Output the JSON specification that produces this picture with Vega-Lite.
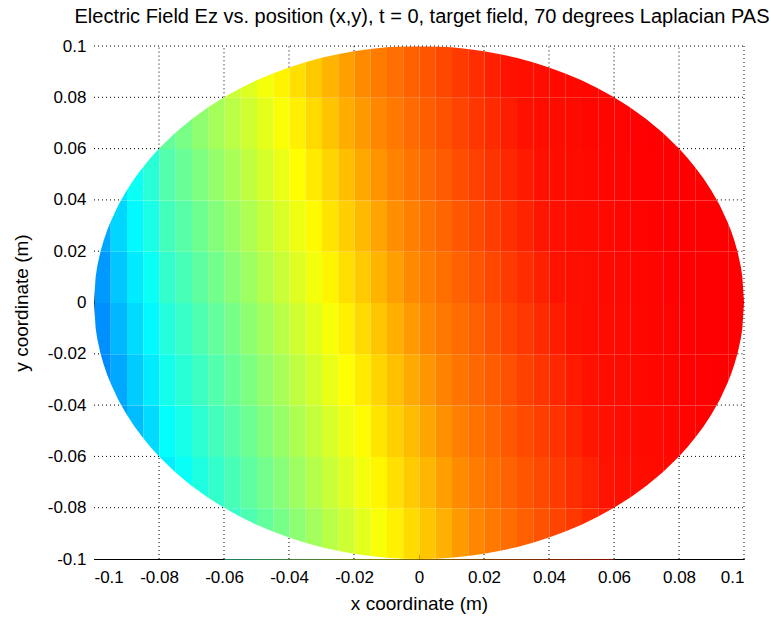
{
"$schema": "https://vega.github.io/schema/vega-lite/v6.json",
"width": 650, "height": 513,
"autosize": {"type": "none"},
"padding": {"left": 94, "top": 46, "right": 25, "bottom": 61},
"background": "white",
"title": {"text": "Electric Field Ez vs. position (x,y), t = 0, target field, 70 degrees Laplacian PAS", "font": "Liberation Sans", "fontSize": 20, "fontWeight": "normal", "color": "#000", "offset": 10, "dx": 3},
"config": {
  "view": {"stroke": null},
  "axis": {"grid": false, "zindex": 1, "domainColor": "#000", "domainWidth": 1, "tickColor": "#000", "tickSize": -5, "labelFont": "Liberation Sans", "labelFontSize": 17, "labelColor": "#000", "titleFont": "Liberation Sans", "titleFontSize": 19, "titleFontWeight": "normal", "titleColor": "#000"},
  "axisX": {"labelPadding": 15, "titlePadding": 9},
  "axisY": {"labelPadding": 13, "titlePadding": 16}
},
"datasets": {
"cells": [
{"x":-0.1,"y":-0.04,"v":0.260},{"x":-0.1,"y":-0.02,"v":0.265},{"x":-0.1,"y":0,"v":0.275},{"x":-0.1,"y":0.02,"v":0.290},
{"x":-0.095,"y":-0.06,"v":0.280},{"x":-0.095,"y":-0.04,"v":0.290},{"x":-0.095,"y":-0.02,"v":0.305},{"x":-0.095,"y":0,"v":0.320},{"x":-0.095,"y":0.02,"v":0.335},{"x":-0.095,"y":0.04,"v":0.350},
{"x":-0.09,"y":-0.06,"v":0.310},{"x":-0.09,"y":-0.04,"v":0.325},{"x":-0.09,"y":-0.02,"v":0.340},{"x":-0.09,"y":0,"v":0.355},{"x":-0.09,"y":0.02,"v":0.370},{"x":-0.09,"y":0.04,"v":0.385},
{"x":-0.085,"y":-0.06,"v":0.340},{"x":-0.085,"y":-0.04,"v":0.355},{"x":-0.085,"y":-0.02,"v":0.370},{"x":-0.085,"y":0,"v":0.385},{"x":-0.085,"y":0.02,"v":0.400},{"x":-0.085,"y":0.04,"v":0.415},
{"x":-0.08,"y":-0.08,"v":0.360},{"x":-0.08,"y":-0.06,"v":0.378},{"x":-0.08,"y":-0.04,"v":0.394},{"x":-0.08,"y":-0.02,"v":0.409},{"x":-0.08,"y":0,"v":0.425},{"x":-0.08,"y":0.02,"v":0.441},{"x":-0.08,"y":0.04,"v":0.457},{"x":-0.08,"y":0.06,"v":0.473},
{"x":-0.075,"y":-0.08,"v":0.383},{"x":-0.075,"y":-0.06,"v":0.398},{"x":-0.075,"y":-0.04,"v":0.414},{"x":-0.075,"y":-0.02,"v":0.430},{"x":-0.075,"y":0,"v":0.446},{"x":-0.075,"y":0.02,"v":0.462},{"x":-0.075,"y":0.04,"v":0.478},{"x":-0.075,"y":0.06,"v":0.494},
{"x":-0.07,"y":-0.08,"v":0.404},{"x":-0.07,"y":-0.06,"v":0.420},{"x":-0.07,"y":-0.04,"v":0.435},{"x":-0.07,"y":-0.02,"v":0.451},{"x":-0.07,"y":0,"v":0.467},{"x":-0.07,"y":0.02,"v":0.483},{"x":-0.07,"y":0.04,"v":0.499},{"x":-0.07,"y":0.06,"v":0.515},
{"x":-0.065,"y":-0.08,"v":0.425},{"x":-0.065,"y":-0.06,"v":0.440},{"x":-0.065,"y":-0.04,"v":0.456},{"x":-0.065,"y":-0.02,"v":0.472},{"x":-0.065,"y":0,"v":0.488},{"x":-0.065,"y":0.02,"v":0.504},{"x":-0.065,"y":0.04,"v":0.520},{"x":-0.065,"y":0.06,"v":0.536},
{"x":-0.06,"y":-0.1,"v":0.430},{"x":-0.06,"y":-0.08,"v":0.446},{"x":-0.06,"y":-0.06,"v":0.461},{"x":-0.06,"y":-0.04,"v":0.477},{"x":-0.06,"y":-0.02,"v":0.493},{"x":-0.06,"y":0,"v":0.509},{"x":-0.06,"y":0.02,"v":0.525},{"x":-0.06,"y":0.04,"v":0.541},{"x":-0.06,"y":0.06,"v":0.557},{"x":-0.06,"y":0.08,"v":0.573},
{"x":-0.055,"y":-0.1,"v":0.451},{"x":-0.055,"y":-0.08,"v":0.466},{"x":-0.055,"y":-0.06,"v":0.482},{"x":-0.055,"y":-0.04,"v":0.498},{"x":-0.055,"y":-0.02,"v":0.514},{"x":-0.055,"y":0,"v":0.530},{"x":-0.055,"y":0.02,"v":0.546},{"x":-0.055,"y":0.04,"v":0.562},{"x":-0.055,"y":0.06,"v":0.578},{"x":-0.055,"y":0.08,"v":0.594},
{"x":-0.05,"y":-0.1,"v":0.472},{"x":-0.05,"y":-0.08,"v":0.487},{"x":-0.05,"y":-0.06,"v":0.503},{"x":-0.05,"y":-0.04,"v":0.519},{"x":-0.05,"y":-0.02,"v":0.535},{"x":-0.05,"y":0,"v":0.551},{"x":-0.05,"y":0.02,"v":0.567},{"x":-0.05,"y":0.04,"v":0.583},{"x":-0.05,"y":0.06,"v":0.599},{"x":-0.05,"y":0.08,"v":0.615},
{"x":-0.045,"y":-0.1,"v":0.492},{"x":-0.045,"y":-0.08,"v":0.508},{"x":-0.045,"y":-0.06,"v":0.524},{"x":-0.045,"y":-0.04,"v":0.540},{"x":-0.045,"y":-0.02,"v":0.556},{"x":-0.045,"y":0,"v":0.572},{"x":-0.045,"y":0.02,"v":0.588},{"x":-0.045,"y":0.04,"v":0.604},{"x":-0.045,"y":0.06,"v":0.620},{"x":-0.045,"y":0.08,"v":0.636},
{"x":-0.04,"y":-0.1,"v":0.513},{"x":-0.04,"y":-0.08,"v":0.529},{"x":-0.04,"y":-0.06,"v":0.545},{"x":-0.04,"y":-0.04,"v":0.561},{"x":-0.04,"y":-0.02,"v":0.577},{"x":-0.04,"y":0,"v":0.593},{"x":-0.04,"y":0.02,"v":0.609},{"x":-0.04,"y":0.04,"v":0.625},{"x":-0.04,"y":0.06,"v":0.641},{"x":-0.04,"y":0.08,"v":0.657},
{"x":-0.035,"y":-0.1,"v":0.534},{"x":-0.035,"y":-0.08,"v":0.550},{"x":-0.035,"y":-0.06,"v":0.566},{"x":-0.035,"y":-0.04,"v":0.582},{"x":-0.035,"y":-0.02,"v":0.598},{"x":-0.035,"y":0,"v":0.614},{"x":-0.035,"y":0.02,"v":0.630},{"x":-0.035,"y":0.04,"v":0.646},{"x":-0.035,"y":0.06,"v":0.662},{"x":-0.035,"y":0.08,"v":0.678},
{"x":-0.03,"y":-0.1,"v":0.555},{"x":-0.03,"y":-0.08,"v":0.571},{"x":-0.03,"y":-0.06,"v":0.587},{"x":-0.03,"y":-0.04,"v":0.603},{"x":-0.03,"y":-0.02,"v":0.619},{"x":-0.03,"y":0,"v":0.635},{"x":-0.03,"y":0.02,"v":0.651},{"x":-0.03,"y":0.04,"v":0.667},{"x":-0.03,"y":0.06,"v":0.683},{"x":-0.03,"y":0.08,"v":0.699},
{"x":-0.025,"y":-0.1,"v":0.576},{"x":-0.025,"y":-0.08,"v":0.592},{"x":-0.025,"y":-0.06,"v":0.608},{"x":-0.025,"y":-0.04,"v":0.624},{"x":-0.025,"y":-0.02,"v":0.640},{"x":-0.025,"y":0,"v":0.656},{"x":-0.025,"y":0.02,"v":0.672},{"x":-0.025,"y":0.04,"v":0.688},{"x":-0.025,"y":0.06,"v":0.704},{"x":-0.025,"y":0.08,"v":0.719},
{"x":-0.02,"y":-0.1,"v":0.597},{"x":-0.02,"y":-0.08,"v":0.613},{"x":-0.02,"y":-0.06,"v":0.629},{"x":-0.02,"y":-0.04,"v":0.645},{"x":-0.02,"y":-0.02,"v":0.661},{"x":-0.02,"y":0,"v":0.677},{"x":-0.02,"y":0.02,"v":0.693},{"x":-0.02,"y":0.04,"v":0.709},{"x":-0.02,"y":0.06,"v":0.725},{"x":-0.02,"y":0.08,"v":0.740},
{"x":-0.015,"y":-0.1,"v":0.618},{"x":-0.015,"y":-0.08,"v":0.634},{"x":-0.015,"y":-0.06,"v":0.650},{"x":-0.015,"y":-0.04,"v":0.666},{"x":-0.015,"y":-0.02,"v":0.682},{"x":-0.015,"y":0,"v":0.698},{"x":-0.015,"y":0.02,"v":0.714},{"x":-0.015,"y":0.04,"v":0.730},{"x":-0.015,"y":0.06,"v":0.744},{"x":-0.015,"y":0.08,"v":0.754},
{"x":-0.01,"y":-0.1,"v":0.639},{"x":-0.01,"y":-0.08,"v":0.655},{"x":-0.01,"y":-0.06,"v":0.671},{"x":-0.01,"y":-0.04,"v":0.687},{"x":-0.01,"y":-0.02,"v":0.703},{"x":-0.01,"y":0,"v":0.719},{"x":-0.01,"y":0.02,"v":0.735},{"x":-0.01,"y":0.04,"v":0.747},{"x":-0.01,"y":0.06,"v":0.757},{"x":-0.01,"y":0.08,"v":0.767},
{"x":-0.005,"y":-0.1,"v":0.660},{"x":-0.005,"y":-0.08,"v":0.676},{"x":-0.005,"y":-0.06,"v":0.692},{"x":-0.005,"y":-0.04,"v":0.708},{"x":-0.005,"y":-0.02,"v":0.724},{"x":-0.005,"y":0,"v":0.740},{"x":-0.005,"y":0.02,"v":0.750},{"x":-0.005,"y":0.04,"v":0.760},{"x":-0.005,"y":0.06,"v":0.770},{"x":-0.005,"y":0.08,"v":0.780},
{"x":0,"y":-0.1,"v":0.681},{"x":0,"y":-0.08,"v":0.697},{"x":0,"y":-0.06,"v":0.713},{"x":0,"y":-0.04,"v":0.729},{"x":0,"y":-0.02,"v":0.744},{"x":0,"y":0,"v":0.753},{"x":0,"y":0.02,"v":0.763},{"x":0,"y":0.04,"v":0.773},{"x":0,"y":0.06,"v":0.783},{"x":0,"y":0.08,"v":0.793},
{"x":0.005,"y":-0.1,"v":0.702},{"x":0.005,"y":-0.08,"v":0.718},{"x":0.005,"y":-0.06,"v":0.734},{"x":0.005,"y":-0.04,"v":0.747},{"x":0.005,"y":-0.02,"v":0.756},{"x":0.005,"y":0,"v":0.766},{"x":0.005,"y":0.02,"v":0.776},{"x":0.005,"y":0.04,"v":0.786},{"x":0.005,"y":0.06,"v":0.796},{"x":0.005,"y":0.08,"v":0.805},
{"x":0.01,"y":-0.1,"v":0.723},{"x":0.01,"y":-0.08,"v":0.739},{"x":0.01,"y":-0.06,"v":0.750},{"x":0.01,"y":-0.04,"v":0.760},{"x":0.01,"y":-0.02,"v":0.769},{"x":0.01,"y":0,"v":0.779},{"x":0.01,"y":0.02,"v":0.789},{"x":0.01,"y":0.04,"v":0.799},{"x":0.01,"y":0.06,"v":0.809},{"x":0.01,"y":0.08,"v":0.818},
{"x":0.015,"y":-0.1,"v":0.743},{"x":0.015,"y":-0.08,"v":0.753},{"x":0.015,"y":-0.06,"v":0.763},{"x":0.015,"y":-0.04,"v":0.773},{"x":0.015,"y":-0.02,"v":0.782},{"x":0.015,"y":0,"v":0.792},{"x":0.015,"y":0.02,"v":0.802},{"x":0.015,"y":0.04,"v":0.812},{"x":0.015,"y":0.06,"v":0.822},{"x":0.015,"y":0.08,"v":0.831},
{"x":0.02,"y":-0.1,"v":0.756},{"x":0.02,"y":-0.08,"v":0.766},{"x":0.02,"y":-0.06,"v":0.776},{"x":0.02,"y":-0.04,"v":0.785},{"x":0.02,"y":-0.02,"v":0.795},{"x":0.02,"y":0,"v":0.805},{"x":0.02,"y":0.02,"v":0.815},{"x":0.02,"y":0.04,"v":0.825},{"x":0.02,"y":0.06,"v":0.834},{"x":0.02,"y":0.08,"v":0.844},
{"x":0.025,"y":-0.1,"v":0.769},{"x":0.025,"y":-0.08,"v":0.779},{"x":0.025,"y":-0.06,"v":0.789},{"x":0.025,"y":-0.04,"v":0.798},{"x":0.025,"y":-0.02,"v":0.808},{"x":0.025,"y":0,"v":0.818},{"x":0.025,"y":0.02,"v":0.828},{"x":0.025,"y":0.04,"v":0.838},{"x":0.025,"y":0.06,"v":0.847},{"x":0.025,"y":0.08,"v":0.857},
{"x":0.03,"y":-0.1,"v":0.782},{"x":0.03,"y":-0.08,"v":0.792},{"x":0.03,"y":-0.06,"v":0.801},{"x":0.03,"y":-0.04,"v":0.811},{"x":0.03,"y":-0.02,"v":0.821},{"x":0.03,"y":0,"v":0.831},{"x":0.03,"y":0.02,"v":0.841},{"x":0.03,"y":0.04,"v":0.850},{"x":0.03,"y":0.06,"v":0.858},{"x":0.03,"y":0.08,"v":0.860},
{"x":0.035,"y":-0.1,"v":0.795},{"x":0.035,"y":-0.08,"v":0.804},{"x":0.035,"y":-0.06,"v":0.814},{"x":0.035,"y":-0.04,"v":0.824},{"x":0.035,"y":-0.02,"v":0.834},{"x":0.035,"y":0,"v":0.844},{"x":0.035,"y":0.02,"v":0.853},{"x":0.035,"y":0.04,"v":0.859},{"x":0.035,"y":0.06,"v":0.861},{"x":0.035,"y":0.08,"v":0.862},
{"x":0.04,"y":-0.1,"v":0.808},{"x":0.04,"y":-0.08,"v":0.817},{"x":0.04,"y":-0.06,"v":0.827},{"x":0.04,"y":-0.04,"v":0.837},{"x":0.04,"y":-0.02,"v":0.847},{"x":0.04,"y":0,"v":0.857},{"x":0.04,"y":0.02,"v":0.859},{"x":0.04,"y":0.04,"v":0.861},{"x":0.04,"y":0.06,"v":0.863},{"x":0.04,"y":0.08,"v":0.865},
{"x":0.045,"y":-0.1,"v":0.820},{"x":0.045,"y":-0.08,"v":0.830},{"x":0.045,"y":-0.06,"v":0.840},{"x":0.045,"y":-0.04,"v":0.850},{"x":0.045,"y":-0.02,"v":0.858},{"x":0.045,"y":0,"v":0.860},{"x":0.045,"y":0.02,"v":0.862},{"x":0.045,"y":0.04,"v":0.863},{"x":0.045,"y":0.06,"v":0.865},{"x":0.045,"y":0.08,"v":0.867},
{"x":0.05,"y":-0.1,"v":0.833},{"x":0.05,"y":-0.08,"v":0.843},{"x":0.05,"y":-0.06,"v":0.853},{"x":0.05,"y":-0.04,"v":0.859},{"x":0.05,"y":-0.02,"v":0.861},{"x":0.05,"y":0,"v":0.862},{"x":0.05,"y":0.02,"v":0.864},{"x":0.05,"y":0.04,"v":0.866},{"x":0.05,"y":0.06,"v":0.868},{"x":0.05,"y":0.08,"v":0.869},
{"x":0.055,"y":-0.1,"v":0.846},{"x":0.055,"y":-0.08,"v":0.856},{"x":0.055,"y":-0.06,"v":0.859},{"x":0.055,"y":-0.04,"v":0.861},{"x":0.055,"y":-0.02,"v":0.863},{"x":0.055,"y":0,"v":0.865},{"x":0.055,"y":0.02,"v":0.866},{"x":0.055,"y":0.04,"v":0.868},{"x":0.055,"y":0.06,"v":0.870},{"x":0.055,"y":0.08,"v":0.872},
{"x":0.06,"y":-0.08,"v":0.860},{"x":0.06,"y":-0.06,"v":0.862},{"x":0.06,"y":-0.04,"v":0.863},{"x":0.06,"y":-0.02,"v":0.865},{"x":0.06,"y":0,"v":0.867},{"x":0.06,"y":0.02,"v":0.869},{"x":0.06,"y":0.04,"v":0.870},{"x":0.06,"y":0.06,"v":0.872},
{"x":0.065,"y":-0.08,"v":0.862},{"x":0.065,"y":-0.06,"v":0.864},{"x":0.065,"y":-0.04,"v":0.866},{"x":0.065,"y":-0.02,"v":0.867},{"x":0.065,"y":0,"v":0.869},{"x":0.065,"y":0.02,"v":0.871},{"x":0.065,"y":0.04,"v":0.873},{"x":0.065,"y":0.06,"v":0.874},
{"x":0.07,"y":-0.08,"v":0.864},{"x":0.07,"y":-0.06,"v":0.866},{"x":0.07,"y":-0.04,"v":0.868},{"x":0.07,"y":-0.02,"v":0.870},{"x":0.07,"y":0,"v":0.871},{"x":0.07,"y":0.02,"v":0.873},{"x":0.07,"y":0.04,"v":0.874},{"x":0.07,"y":0.06,"v":0.875},
{"x":0.075,"y":-0.08,"v":0.867},{"x":0.075,"y":-0.06,"v":0.869},{"x":0.075,"y":-0.04,"v":0.870},{"x":0.075,"y":-0.02,"v":0.872},{"x":0.075,"y":0,"v":0.874},{"x":0.075,"y":0.02,"v":0.875},{"x":0.075,"y":0.04,"v":0.875},{"x":0.075,"y":0.06,"v":0.875},
{"x":0.08,"y":-0.06,"v":0.871},{"x":0.08,"y":-0.04,"v":0.873},{"x":0.08,"y":-0.02,"v":0.874},{"x":0.08,"y":0,"v":0.875},{"x":0.08,"y":0.02,"v":0.875},{"x":0.08,"y":0.04,"v":0.875},
{"x":0.085,"y":-0.06,"v":0.873},{"x":0.085,"y":-0.04,"v":0.874},{"x":0.085,"y":-0.02,"v":0.875},{"x":0.085,"y":0,"v":0.875},{"x":0.085,"y":0.02,"v":0.875},{"x":0.085,"y":0.04,"v":0.875},
{"x":0.09,"y":-0.06,"v":0.875},{"x":0.09,"y":-0.04,"v":0.875},{"x":0.09,"y":-0.02,"v":0.875},{"x":0.09,"y":0,"v":0.875},{"x":0.09,"y":0.02,"v":0.875},{"x":0.09,"y":0.04,"v":0.875},
{"x":0.095,"y":-0.04,"v":0.875},{"x":0.095,"y":-0.02,"v":0.875},{"x":0.095,"y":0,"v":0.875},{"x":0.095,"y":0.02,"v":0.875}
],
"edge": [
{"x":-0.1015,"top":0,"bot":0},{"x":-0.1,"top":0,"bot":0},{"x":-0.0995,"top":0.00999,"bot":-0.00999},{"x":-0.099,"top":0.01411,"bot":-0.01411},{"x":-0.098,"top":0.0199,"bot":-0.0199},{"x":-0.097,"top":0.02431,"bot":-0.02431},{"x":-0.096,"top":0.028,"bot":-0.028},{"x":-0.095,"top":0.03122,"bot":-0.03122},{"x":-0.0925,"top":0.038,"bot":-0.038},{"x":-0.09,"top":0.04359,"bot":-0.04359},{"x":-0.0875,"top":0.04841,"bot":-0.04841},{"x":-0.085,"top":0.05268,"bot":-0.05268},{"x":-0.0825,"top":0.05651,"bot":-0.05651},{"x":-0.08,"top":0.06,"bot":-0.06},{"x":-0.075,"top":0.06614,"bot":-0.06614},{"x":-0.07,"top":0.07141,"bot":-0.07141},{"x":-0.065,"top":0.07599,"bot":-0.07599},{"x":-0.06,"top":0.08,"bot":-0.08},{"x":-0.055,"top":0.08352,"bot":-0.08352},{"x":-0.05,"top":0.0866,"bot":-0.0866},{"x":-0.045,"top":0.0893,"bot":-0.0893},{"x":-0.04,"top":0.09165,"bot":-0.09165},{"x":-0.035,"top":0.09367,"bot":-0.09367},{"x":-0.03,"top":0.09539,"bot":-0.09539},{"x":-0.025,"top":0.09682,"bot":-0.09682},{"x":-0.02,"top":0.09798,"bot":-0.09798},{"x":-0.015,"top":0.09887,"bot":-0.09887},{"x":-0.01,"top":0.0995,"bot":-0.0995},{"x":-0.005,"top":0.09987,"bot":-0.09987},{"x":0,"top":0.1,"bot":-0.1},
{"x":0.005,"top":0.09987,"bot":-0.09987},{"x":0.01,"top":0.0995,"bot":-0.0995},{"x":0.015,"top":0.09887,"bot":-0.09887},{"x":0.02,"top":0.09798,"bot":-0.09798},{"x":0.025,"top":0.09682,"bot":-0.09682},{"x":0.03,"top":0.09539,"bot":-0.09539},{"x":0.035,"top":0.09367,"bot":-0.09367},{"x":0.04,"top":0.09165,"bot":-0.09165},{"x":0.045,"top":0.0893,"bot":-0.0893},{"x":0.05,"top":0.0866,"bot":-0.0866},{"x":0.055,"top":0.08352,"bot":-0.08352},{"x":0.06,"top":0.08,"bot":-0.08},{"x":0.065,"top":0.07599,"bot":-0.07599},{"x":0.07,"top":0.07141,"bot":-0.07141},{"x":0.075,"top":0.06614,"bot":-0.06614},{"x":0.08,"top":0.06,"bot":-0.06},{"x":0.0825,"top":0.05651,"bot":-0.05651},{"x":0.085,"top":0.05268,"bot":-0.05268},{"x":0.0875,"top":0.04841,"bot":-0.04841},{"x":0.09,"top":0.04359,"bot":-0.04359},{"x":0.0925,"top":0.038,"bot":-0.038},{"x":0.095,"top":0.03122,"bot":-0.03122},{"x":0.096,"top":0.028,"bot":-0.028},{"x":0.097,"top":0.02431,"bot":-0.02431},{"x":0.098,"top":0.0199,"bot":-0.0199},{"x":0.099,"top":0.01411,"bot":-0.01411},{"x":0.0995,"top":0.00999,"bot":-0.00999},{"x":0.1,"top":0,"bot":0},{"x":0.1015,"top":0,"bot":0}
],
"grid": [
{"x":-0.08,"x2":-0.08,"y":0.06,"y2":0.1},{"x":-0.08,"x2":-0.08,"y":-0.1,"y2":-0.06},
{"x":-0.06,"x2":-0.06,"y":0.08,"y2":0.1},{"x":-0.06,"x2":-0.06,"y":-0.1,"y2":-0.08},
{"x":-0.04,"x2":-0.04,"y":0.09165,"y2":0.1},{"x":-0.04,"x2":-0.04,"y":-0.1,"y2":-0.09165},
{"x":-0.02,"x2":-0.02,"y":0.09798,"y2":0.1},{"x":-0.02,"x2":-0.02,"y":-0.1,"y2":-0.09798},
{"x":0.02,"x2":0.02,"y":0.09798,"y2":0.1},{"x":0.02,"x2":0.02,"y":-0.1,"y2":-0.09798},
{"x":0.04,"x2":0.04,"y":0.09165,"y2":0.1},{"x":0.04,"x2":0.04,"y":-0.1,"y2":-0.09165},
{"x":0.06,"x2":0.06,"y":0.08,"y2":0.1},{"x":0.06,"x2":0.06,"y":-0.1,"y2":-0.08},
{"x":0.08,"x2":0.08,"y":0.06,"y2":0.1},{"x":0.08,"x2":0.08,"y":-0.1,"y2":-0.06},
{"x":0.1,"x2":0.1,"y":-0.1,"y2":0.1},
{"x":-0.1,"x2":-0.06,"y":0.08,"y2":0.08},{"x":0.06,"x2":0.1,"y":0.08,"y2":0.08},
{"x":-0.1,"x2":-0.08,"y":0.06,"y2":0.06},{"x":0.08,"x2":0.1,"y":0.06,"y2":0.06},
{"x":-0.1,"x2":-0.09165,"y":0.04,"y2":0.04},{"x":0.09165,"x2":0.1,"y":0.04,"y2":0.04},
{"x":-0.1,"x2":-0.09798,"y":0.02,"y2":0.02},{"x":0.09798,"x2":0.1,"y":0.02,"y2":0.02},
{"x":-0.1,"x2":-0.09798,"y":-0.02,"y2":-0.02},{"x":0.09798,"x2":0.1,"y":-0.02,"y2":-0.02},
{"x":-0.1,"x2":-0.09165,"y":-0.04,"y2":-0.04},{"x":0.09165,"x2":0.1,"y":-0.04,"y2":-0.04},
{"x":-0.1,"x2":-0.08,"y":-0.06,"y2":-0.06},{"x":0.08,"x2":0.1,"y":-0.06,"y2":-0.06},
{"x":-0.1,"x2":-0.06,"y":-0.08,"y2":-0.08},{"x":0.06,"x2":0.1,"y":-0.08,"y2":-0.08},
{"x":-0.1,"x2":0.1,"y":0.1,"y2":0.1}
]
},
"layer": [
{"data": {"name": "cells"},
 "mark": {"type": "rect", "binSpacing": 0},
 "encoding": {
  "x": {"field": "x", "type": "quantitative", "bin": {"binned": true, "step": 0.005}, "title": "x coordinate (m)", "scale": {"domain": [-0.1, 0.1], "nice": false, "zero": false}, "axis": {"values": [-0.1,-0.08,-0.06,-0.04,-0.02,0,0.02,0.04,0.06,0.08,0.1], "labelExpr": "replace(format(datum.value, '~g'), '\u2212', '-')"}},
  "y": {"field": "y", "type": "quantitative", "bin": {"binned": true, "step": 0.02}, "title": "y coordinate (m)", "scale": {"domain": [-0.1, 0.1], "nice": false, "zero": false}, "axis": {"values": [-0.1,-0.08,-0.06,-0.04,-0.02,0,0.02,0.04,0.06,0.08,0.1], "labelExpr": "replace(format(datum.value, '~g'), '\u2212', '-')"}},
  "color": {"field": "v", "type": "quantitative", "scale": {"type": "linear", "domain": [0, 0.125, 0.375, 0.625, 0.875, 1], "range": ["#00008f", "#0000ff", "#00ffff", "#ffff00", "#ff0000", "#800000"], "interpolate": "rgb"}, "legend": null}
 }},
{"data": {"name": "edge"},
 "mark": {"type": "area", "color": "white", "interpolate": "linear"},
 "encoding": {
  "x": {"field": "x", "type": "quantitative", "title": "x coordinate (m)"},
  "y": {"field": "top", "type": "quantitative", "title": "y coordinate (m)"},
  "y2": {"datum": 0.1}
 }},
{"data": {"name": "edge"},
 "mark": {"type": "area", "color": "white", "interpolate": "linear"},
 "encoding": {
  "x": {"field": "x", "type": "quantitative", "title": "x coordinate (m)"},
  "y": {"field": "bot", "type": "quantitative", "title": "y coordinate (m)"},
  "y2": {"datum": -0.1}
 }},
{"data": {"name": "grid"},
 "mark": {"type": "rule", "color": "#000", "strokeWidth": 1, "strokeDash": [1, 3]},
 "encoding": {
  "x": {"field": "x", "type": "quantitative", "title": "x coordinate (m)"},
  "x2": {"field": "x2"},
  "y": {"field": "y", "type": "quantitative", "title": "y coordinate (m)"},
  "y2": {"field": "y2"}
 }}
]
}
